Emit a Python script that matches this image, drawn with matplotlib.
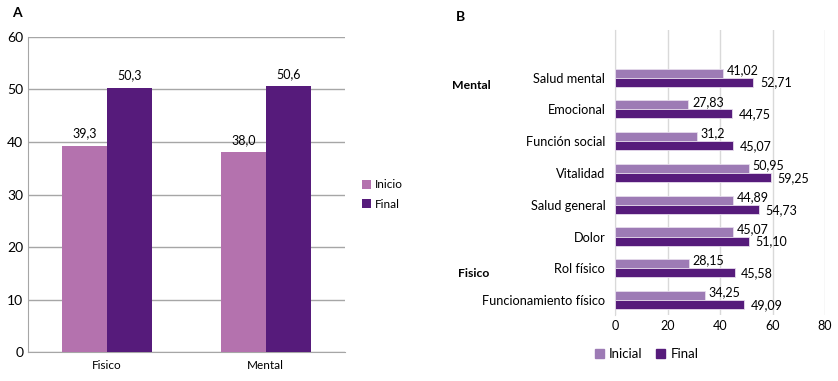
import numpy as np
import matplotlib.pyplot as plt
from matplotlib.patches import Patch

plt.rcParams['font.family'] = ['Lato', 'DejaVu Sans']

# panel A
groups_a = ["Fisico", "Mental"]
inicio_a = [39.3, 38.0]
final_a = [50.3, 50.6]
labels_inicio_a = ["39,3", "38,0"]
labels_final_a = ["50,3", "50,6"]

# panel B (bottom to top)
dims_b = ["Funcionamiento físico", "Rol físico", "Dolor", "Salud general",
          "Vitalidad", "Función social", "Emocional", "Salud mental"]
inicial_b = [34.25, 28.15, 45.07, 44.89, 50.95, 31.2, 27.83, 41.02]
final_b = [49.09, 45.58, 51.10, 54.73, 59.25, 45.07, 44.75, 52.71]
labels_inicial_b = ["34,25", "28,15", "45,07", "44,89", "50,95", "31,2", "27,83", "41,02"]
labels_final_b = ["49,09", "45,58", "51,10", "54,73", "59,25", "45,07", "44,75", "52,71"]

C_INI_A = "#B472AE"
C_INI_B = "#9D7BB5"
C_FIN = "#561B7B"
GRID = "#A6A6A6"

fig = plt.figure(figsize=(8.38, 3.81), dpi=100)

# ---- A ----
ax = fig.add_axes([0.0334, 0.0761, 0.3783, 0.8268])
x = np.arange(len(groups_a))
w = 0.284
ax.bar(x - w / 2, inicio_a, w, color=C_INI_A, label="Inicio", zorder=3)
ax.bar(x + w / 2, final_a, w, color=C_FIN, label="Final", zorder=3)
for i in range(len(x)):
    ax.text(x[i] - w / 2, inicio_a[i] + 1.2, labels_inicio_a[i], ha="center",
            va="bottom", fontsize=9)
    ax.text(x[i] + w / 2, final_a[i] + 1.2, labels_final_a[i], ha="center",
            va="bottom", fontsize=9)
ax.set_xlim(-0.5, 1.5)
ax.set_ylim(0, 60)
ax.set_yticks(range(0, 61, 10))
ax.yaxis.grid(True, color=GRID, lw=1, zorder=0)
ax.set_xticks(x)
ax.set_xticklabels(groups_a, fontsize=8.5)
ax.tick_params(length=0, labelsize=10)
ax.tick_params(axis="x", labelsize=8.5, pad=6)
for s in ["top", "right"]:
    ax.spines[s].set_visible(False)
for s in ["left", "bottom"]:
    ax.spines[s].set_color(GRID)
ax.legend(loc="center left", bbox_to_anchor=(1.02, 0.5), frameon=False,
          fontsize=8.5, handlelength=0.8, handleheight=0.8, handletextpad=0.3,
          labelspacing=0.7)
fig.text(0.014, 0.955, "A", fontsize=10, fontweight="bold", ha="left")

# ---- B ----
bx = fig.add_axes([0.7339, 0.1732, 0.2506, 0.7481])
y = np.arange(len(dims_b))
h = 0.285
bx.barh(y + h / 2, inicial_b, h, color=C_INI_B, edgecolor="#E6DCEC", lw=0.6, zorder=3)
bx.barh(y - h / 2, final_b, h, color=C_FIN, edgecolor="#E6DCEC", lw=0.6, zorder=3)
for i in range(len(y)):
    bx.text(inicial_b[i] + 1.5, y[i] + h * 0.85, labels_inicial_b[i],
            va="center", fontsize=9)
    bx.text(final_b[i] + 2.5, y[i] - h * 0.55, labels_final_b[i],
            va="center", fontsize=9)
bx.set_xlim(0, 80)
bx.set_ylim(-0.47, 8.5)
bx.set_xticks(range(0, 81, 20))
bx.set_yticks(y)
bx.set_yticklabels(dims_b, fontsize=9.2)
bx.xaxis.grid(True, color="#D9D9D9", lw=1, zorder=0)
bx.tick_params(length=0, labelsize=9)
bx.tick_params(axis="y", labelsize=9.2, pad=7)
for s in ["top", "right", "bottom"]:
    bx.spines[s].set_visible(False)
bx.spines["left"].set_color("#D9D9D9")
handles = [Patch(color=C_INI_B, label="Inicial"), Patch(color=C_FIN, label="Final")]
bx.legend(handles=handles, loc="upper center", bbox_to_anchor=(0.15, -0.075),
          ncol=2, frameon=False, fontsize=9.5, handlelength=0.7, handleheight=0.7,
          handletextpad=0.4, columnspacing=1.0)
fig.text(0.544, 0.945, "B", fontsize=10, fontweight="bold")
fig.text(0.539, 0.766, "Mental", fontsize=8.8, fontweight="bold")
fig.text(0.546, 0.272, "Fisico", fontsize=8.8, fontweight="bold")

fig.savefig("out.png", dpi=100)
